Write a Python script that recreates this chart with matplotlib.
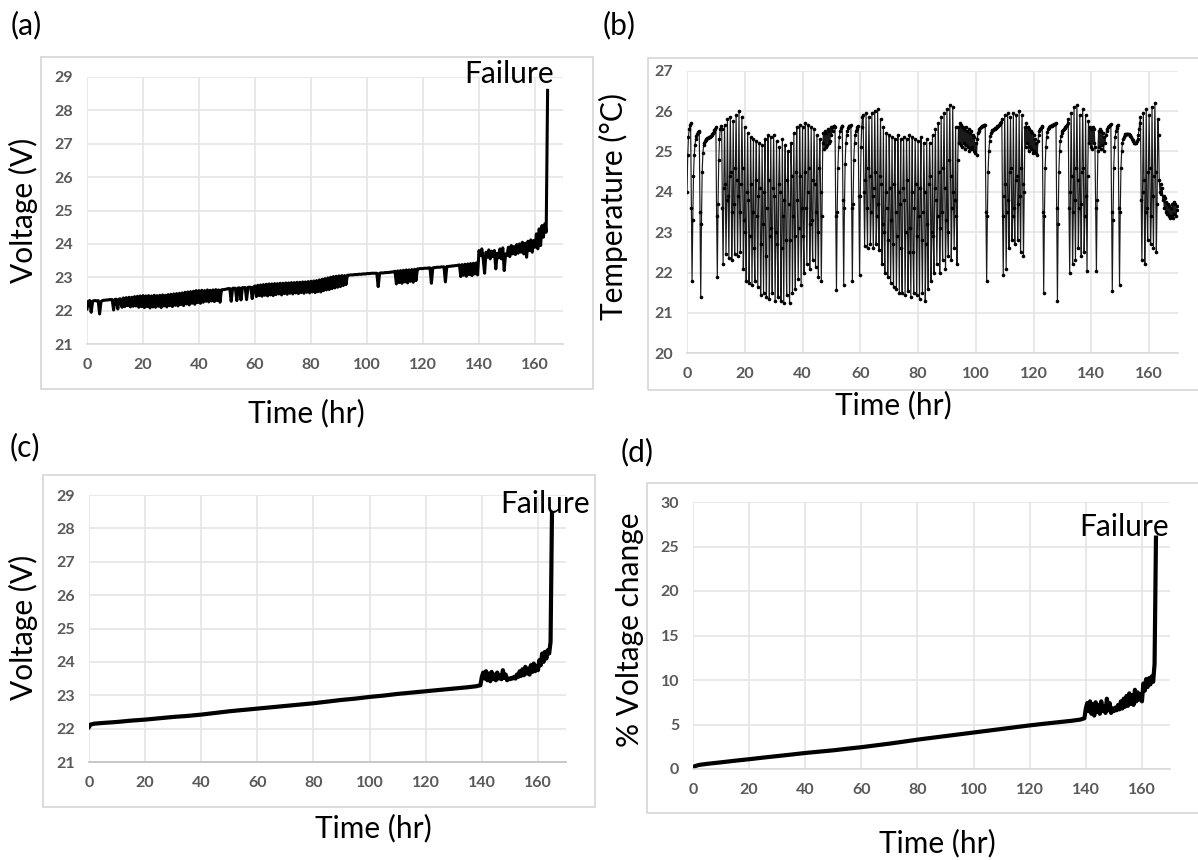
import numpy as np
import matplotlib
matplotlib.use("Agg")
import matplotlib.pyplot as plt
from matplotlib.patches import Rectangle

# ---------------- data ----------------
time_ticks = [0, 20, 40, 60, 80, 100, 120, 140, 160]
volt_ticks = [21, 22, 23, 24, 25, 26, 27, 28, 29]
temp_ticks = [20, 21, 22, 23, 24, 25, 26, 27]
pct_ticks = [0, 5, 10, 15, 20, 25, 30]

# (a) raw voltage, sampled every 0.5 h from t = 0
a_start, a_step = 0.0, 0.5
a_volt = [
    22.05, 22.28, 22.30, 21.95, 22.28, 22.30, 22.30, 22.29, 22.30, 21.90,
    22.27, 22.30, 22.31, 22.31, 22.32, 22.32, 22.33, 22.33, 22.33, 22.02,
    22.34, 22.34, 22.05, 22.35, 22.35, 22.10,
    22.38, 22.12, 22.39, 22.15, 22.40, 22.11, 22.40, 22.13, 22.42, 22.14,
    22.43, 22.10, 22.44, 22.12, 22.45, 22.09, 22.44, 22.12, 22.45, 22.08,
    22.44, 22.11, 22.46, 22.10, 22.45, 22.13, 22.46, 22.09, 22.47, 22.14,
    22.46, 22.11, 22.48, 22.15, 22.49, 22.12, 22.50, 22.16, 22.51, 22.14,
    22.52, 22.18, 22.53, 22.15, 22.55, 22.20, 22.56, 22.17, 22.57, 22.22,
    22.58, 22.19, 22.60, 22.24, 22.60, 22.22, 22.61, 22.25, 22.60, 22.28,
    22.62, 22.26, 22.61, 22.29, 22.62, 22.27, 22.63, 22.30, 22.62, 22.25,
    22.62, 22.63, 22.63, 22.64, 22.65, 22.66, 22.66, 22.28, 22.67, 22.67,
    22.67, 22.30, 22.68, 22.68, 22.32, 22.69, 22.69, 22.69, 22.33, 22.70,
    22.70, 22.70, 22.36, 22.71,
    22.74, 22.42, 22.76, 22.45, 22.77, 22.43, 22.78, 22.46, 22.79, 22.44,
    22.80, 22.47, 22.80, 22.45, 22.81, 22.48, 22.81, 22.50, 22.82, 22.47,
    22.82, 22.51, 22.83, 22.49, 22.83, 22.52, 22.84, 22.50, 22.84, 22.53,
    22.85, 22.51, 22.85, 22.54, 22.86, 22.52, 22.86, 22.55, 22.87, 22.53,
    22.88, 22.56, 22.89, 22.54, 22.90, 22.57, 22.92, 22.56, 22.94, 22.60,
    22.96, 22.62, 22.98, 22.63, 23.00, 22.66, 23.02, 22.68, 23.03, 22.70,
    23.04, 22.72, 23.05, 22.75, 23.05, 22.78,
    23.06, 23.06, 23.07, 23.07, 23.07, 23.08, 23.08, 23.08, 23.09, 23.09,
    23.09, 23.10, 23.10, 23.10, 23.11, 23.11, 23.11, 23.12, 23.12, 23.12,
    23.12, 23.12, 22.72, 23.12, 23.13, 23.13, 23.13, 23.14, 23.14, 23.14,
    23.15, 23.15, 23.16, 23.16,
    23.18, 22.80, 23.19, 22.84, 23.20, 22.82, 23.21, 22.86, 23.22, 22.83,
    23.22, 22.88, 23.23, 22.85, 23.24, 22.90,
    23.25, 23.25, 23.26, 23.26, 23.26, 23.27, 23.27, 23.27, 23.28, 23.28,
    22.82, 23.28, 23.29, 23.29, 23.30, 23.30, 23.30, 23.31, 23.31, 23.31,
    22.86, 23.32, 23.32, 23.33, 23.33, 23.34, 23.34, 23.35, 23.35, 23.36,
    23.37, 23.02, 23.38, 23.06, 23.39, 23.03, 23.40, 23.08, 23.41, 23.05,
    23.42, 23.10, 23.43, 23.07,
    23.80, 23.65, 23.85, 23.55, 23.12, 23.75, 23.60, 23.82, 23.55, 23.78,
    23.62, 23.80, 23.25, 23.72, 23.58, 23.85, 23.55, 23.88, 23.20, 23.70,
    23.65, 23.90, 23.62, 23.95, 23.70, 23.92, 23.68, 23.98, 23.72, 24.00,
    23.75, 24.05, 23.70, 24.02, 23.60, 24.08, 23.80, 24.12, 23.75, 24.10,
    23.90, 24.30, 23.85, 24.45, 23.95, 24.55, 24.20, 24.60, 24.35, 28.60,
]

# (b) temperature, sampled every 0.25 h from t = 0
b_start, b_step = 0.0, 0.25
b_temp = [
    24.0, 24.9, 25.35, 25.55, 25.65, 25.7, 23.6, 21.8,
    23.3, 24.4, 24.9, 25.15, 25.3, 25.38, 25.43, 25.47,
    25.48, 25.5, 23.5, 21.4, 23.2, 24.5, 24.95, 25.15,
    25.22, 25.26, 25.29, 25.31, 25.33, 25.34, 25.35, 25.36,
    25.37, 25.38, 25.4, 25.42, 25.45, 25.48, 25.52, 25.56,
    25.6, 23.4, 21.9, 23.7, 24.8, 25.3, 25.55, 25.62,
    25.55, 23.6, 22.2, 24.1, 25.65, 24.2, 22.45, 23.8,
    25.8, 23.9, 22.35, 24.4, 25.85, 24.5, 22.3, 23.5,
    25.75, 23.7, 22.45, 24.6, 25.9, 24.3, 22.4, 23.9,
    26.0, 23.5, 22.5, 24.2, 25.85, 24.6, 22.1, 23.3,
    25.6, 23.0, 21.8, 24.0, 25.45, 23.8, 21.75, 22.9,
    25.35, 24.2, 21.7, 23.5, 25.3, 22.6, 21.8, 24.3,
    25.25, 23.4, 21.65, 23.9, 25.2, 24.1, 21.45, 22.7,
    25.15, 23.2, 21.5, 24.0, 25.3, 22.4, 21.4, 23.6,
    25.4, 24.3, 21.35, 22.9, 25.35, 23.1, 21.5, 24.1,
    25.4, 23.9, 21.3, 23.0, 25.25, 22.7, 21.4, 24.2,
    25.1, 24.0, 21.3, 22.6, 25.3, 23.4, 21.25, 23.8,
    25.15, 22.8, 21.45, 24.3, 25.0, 23.7, 21.25, 22.8,
    25.2, 24.4, 21.5, 23.4, 25.45, 22.9, 21.6, 24.5,
    25.6, 23.8, 21.85, 23.1, 25.65, 24.4, 21.7, 23.6,
    25.6, 22.9, 22.0, 24.5, 25.7, 23.6, 22.2, 24.0,
    25.65, 24.6, 22.1, 23.2, 25.6, 23.3, 22.3, 24.3,
    25.55, 24.2, 22.15, 23.5, 25.4, 23.0, 21.9, 24.6,
    25.3, 24.0, 21.8, 23.4, 25.2, 25.45, 25.05, 25.5,
    25.1, 25.45, 25.15, 25.55, 25.2, 25.5, 25.25, 25.6,
    25.4, 25.6, 25.5, 25.62, 25.62, 25.6, 23.4, 21.57,
    23.5, 24.6, 25.1, 25.35, 25.5, 25.58, 25.62, 25.64,
    23.8, 21.7, 23.6, 24.7, 25.2, 25.4, 25.5, 25.58,
    25.62, 25.63, 25.64, 25.65, 23.6, 21.8, 23.7, 24.8,
    25.2, 25.4, 25.5, 25.56, 25.6, 25.62, 23.9, 21.95,
    23.9, 25.1, 25.6, 25.85, 25.9, 24.0, 22.65, 24.3,
    25.95, 23.6, 22.6, 24.6, 25.85, 24.4, 22.7, 23.5,
    25.95, 23.9, 22.6, 24.1, 26.0, 24.5, 22.7, 23.4,
    26.05, 23.7, 22.55, 24.4, 25.8, 24.2, 22.2, 23.2,
    25.6, 23.0, 22.0, 24.0, 25.45, 23.6, 21.9, 22.8,
    25.4, 24.1, 21.75, 23.3, 25.35, 22.7, 21.65, 24.2,
    25.3, 23.5, 21.6, 22.9, 25.4, 24.0, 21.5, 23.7,
    25.3, 22.6, 21.5, 24.1, 25.35, 23.8, 21.45, 23.0,
    25.3, 24.3, 21.55, 22.5, 25.4, 23.1, 21.4, 24.0,
    25.35, 22.5, 21.5, 23.6, 25.3, 24.2, 21.45, 22.9,
    25.25, 23.4, 21.35, 24.1, 25.35, 22.8, 21.5, 23.5,
    25.2, 24.0, 21.3, 22.7, 25.3, 23.2, 21.6, 24.2,
    25.2, 24.4, 21.8, 23.0, 25.4, 22.9, 22.0, 24.1,
    25.55, 23.8, 22.2, 23.4, 25.7, 24.5, 22.0, 23.1,
    25.85, 23.5, 22.3, 24.6, 25.95, 24.1, 22.1, 23.3,
    26.05, 23.0, 22.4, 24.8, 26.15, 24.4, 22.3, 23.6,
    26.1, 24.0, 22.6, 23.8, 25.6, 23.4, 22.2, 24.8,
    25.6, 25.2, 25.7, 25.15, 25.65, 25.1, 25.6, 25.2,
    25.55, 25.05, 25.6, 25.15, 25.5, 25.1, 25.55, 25.0,
    25.45, 25.05, 25.5, 25.1, 25.4, 25.0, 25.35, 24.95,
    25.2, 24.9, 25.3, 25.45, 25.5, 25.55, 25.58, 25.6,
    25.62, 25.63, 25.64, 25.65, 25.65, 25.66, 23.5, 21.8,
    23.4, 24.5, 25.0, 25.25, 25.38, 25.45, 25.5, 25.52,
    25.54, 25.55, 25.56, 25.57, 25.58, 25.6, 25.62, 25.64,
    25.66, 25.68, 25.7, 25.72, 25.8, 23.4, 21.95, 23.9,
    25.9, 24.2, 22.1, 23.5, 25.95, 23.8, 22.6, 24.5,
    25.85, 24.6, 22.8, 23.4, 25.95, 23.6, 22.7, 24.3,
    25.9, 24.4, 22.8, 23.7, 26.0, 23.9, 22.5, 24.6,
    25.9, 24.2, 22.4, 24.0, 25.6, 25.1, 25.7, 25.2,
    25.6, 25.0, 25.55, 25.1, 25.5, 25.05, 25.45, 24.95,
    25.4, 25.0, 25.3, 24.95, 25.2, 24.9, 25.25, 25.4,
    25.5, 25.55, 25.58, 25.6, 25.62, 23.5, 21.5, 23.4,
    24.6, 25.1, 25.35, 25.48, 25.55, 25.58, 25.6, 25.62,
    25.63, 25.64, 25.65, 25.66, 25.67, 25.68, 25.69, 25.7,
    23.6, 21.3, 23.2, 24.5, 25.0, 25.25, 25.38, 25.45,
    25.5, 25.53, 25.56, 25.58, 25.6, 25.62, 25.65, 25.7,
    25.8, 23.6, 22.0, 24.0, 25.95, 24.4, 22.2, 23.5,
    26.1, 23.8, 22.3, 24.6, 26.15, 24.3, 22.6, 23.6,
    25.9, 23.7, 22.4, 24.5, 26.05, 24.6, 22.5, 23.4,
    25.9, 23.9, 22.05, 24.4, 25.75, 25.2, 25.6, 25.1,
    25.55, 25.05, 25.6, 25.2, 25.55, 25.1, 23.6, 22.05,
    23.8, 25.0, 25.5, 25.1, 25.55, 25.05, 25.5, 25.15,
    25.45, 25.0, 25.35, 25.2, 25.4, 25.5, 25.55, 25.6,
    25.62, 25.64, 25.66, 25.68, 23.5, 21.55, 23.3, 24.6,
    25.1, 25.35, 25.5, 25.58, 25.62, 25.65, 23.6, 21.7,
    23.5, 24.6, 25.0, 25.2, 25.3, 25.36, 25.4, 25.42,
    25.43, 25.44, 25.44, 25.43, 25.42, 25.4, 25.38, 25.35,
    25.32, 25.28, 25.25, 25.22, 25.2, 25.2, 25.22, 25.25,
    25.3, 25.4, 25.55, 25.7, 25.85, 23.8, 22.3, 24.0,
    25.95, 24.3, 22.2, 23.5, 26.05, 23.6, 22.8, 24.5,
    25.9, 24.6, 22.7, 23.4, 26.1, 23.9, 22.6, 24.4,
    26.2, 24.5, 22.5, 23.7, 25.8, 25.4, 24.3, 24.0,
    24.2, 23.95, 24.1, 23.8, 23.9, 23.6, 23.85, 23.5,
    23.75, 23.45, 23.7, 23.4, 23.65, 23.35, 23.6, 23.4,
    23.7, 23.35, 23.75, 23.45, 23.7, 23.4, 23.55, 23.65,
]

# (c) filtered voltage
c_smooth_t = [0, 0.5, 2, 5, 10, 15, 20, 25, 30, 35, 40, 45, 50, 55, 60, 65, 70,
              75, 80, 85, 90, 95, 100, 105, 110, 115, 120, 125, 130, 135, 138, 139.5]
c_smooth_v = [22.05, 22.12, 22.15, 22.17, 22.20, 22.24, 22.27, 22.31, 22.35, 22.38,
              22.42, 22.47, 22.52, 22.56, 22.60, 22.64, 22.68, 22.72, 22.76, 22.81,
              22.86, 22.90, 22.95, 22.99, 23.04, 23.08, 23.12, 23.16, 23.20, 23.24,
              23.27, 23.30]
c_noisy_start, c_noisy_step = 140.0, 0.5
c_noisy_v = [23.55, 23.68, 23.50, 23.72, 23.45, 23.65, 23.42, 23.70, 23.48, 23.62,
             23.45, 23.68, 23.50, 23.60, 23.48, 23.75, 23.52, 23.62, 23.45, 23.50,
             23.48, 23.52, 23.50, 23.55, 23.50, 23.62, 23.55, 23.72, 23.58, 23.78,
             23.60, 23.85, 23.65, 23.80, 23.62, 23.90, 23.70, 23.95, 23.72, 23.88,
             23.75, 24.05, 23.90, 24.25, 24.00, 24.30, 24.10, 24.35, 24.25, 24.60,
             28.45]

# (d) % voltage change
d_smooth_t = [0, 0.5, 2, 5, 10, 15, 20, 25, 30, 35, 40, 45, 50, 55, 60, 65, 70,
              75, 80, 85, 90, 95, 100, 105, 110, 115, 120, 125, 130, 135, 138, 139.5]
d_smooth_v = [0.0, 0.30, 0.45, 0.58, 0.75, 0.93, 1.10, 1.28, 1.45, 1.62, 1.80, 1.95,
              2.10, 2.28, 2.45, 2.65, 2.85, 3.07, 3.30, 3.50, 3.70, 3.90, 4.10, 4.30,
              4.50, 4.70, 4.90, 5.08, 5.25, 5.42, 5.55, 5.70]
d_noisy_start, d_noisy_step = 140.0, 0.5
d_noisy_v = [6.8, 7.4, 6.5, 7.6, 6.2, 7.3, 6.0, 7.5, 6.4, 7.2,
             6.2, 7.6, 6.5, 7.0, 6.3, 7.9, 6.6, 7.4, 6.3, 6.8,
             6.5, 6.9, 6.6, 7.2, 6.7, 7.6, 6.8, 7.9, 7.0, 8.2,
             7.1, 8.5, 7.3, 8.3, 7.2, 8.9, 7.6, 8.6, 7.8, 8.4,
             7.6, 9.6, 8.8, 10.1, 9.2, 10.2, 9.5, 10.4, 9.8, 11.8,
             26.0]

# ---------------- figure ----------------
W, H = 1198, 860
plt.rcParams['font.family'] = ['Lato', 'DejaVu Sans']
fig = plt.figure(figsize=(W / 100, H / 100), dpi=100)


def px_axes(l, t, r, b):
    return fig.add_axes([l / W, 1 - b / H, (r - l) / W, (b - t) / H])


def ftext(x, y, s, **kw):
    fig.text(x / W, 1 - y / H, s, **kw)


def border(l, t, r, b):
    fig.add_artist(Rectangle((l / W, 1 - b / H), (r - l) / W, (b - t) / H,
                             transform=fig.transFigure, fill=False,
                             ec='#D9D9D9', lw=1.3, zorder=0))


def style(ax, ylim, yticks, axis_color='#D9D9D9'):
    ax.set_xlim(0, 170)
    ax.set_ylim(*ylim)
    ax.set_xticks(time_ticks)
    ax.set_yticks(yticks)
    ax.grid(True, color='#E3E3E3', lw=1.1)
    ax.set_axisbelow(True)
    for s in ['top', 'right', 'left']:
        ax.spines[s].set_visible(False)
    ax.spines['bottom'].set_color(axis_color)
    ax.spines['bottom'].set_linewidth(1.2)
    ax.tick_params(length=0, pad=10, labelsize=11.5, labelcolor='#595959')
    for lab in ax.get_xticklabels() + ax.get_yticklabels():
        lab.set_fontweight('bold')
    ax.patch.set_alpha(0)


BIG = 21.5

# chart-area borders
border(41, 57, 593, 389)
border(648, 58, 1201, 390)
border(43, 475, 595, 807)
border(647, 483, 1201, 813)

# (a)
ax_a = px_axes(87, 77, 563, 344)
style(ax_a, (21, 29), volt_ticks)
t_a = a_start + a_step * np.arange(len(a_volt))
ax_a.plot(t_a, a_volt, color='black', lw=2.2)

# (b)
ax_b = px_axes(687, 70.7, 1178, 353.3)
style(ax_b, (20, 27), temp_ticks)
t_b = b_start + b_step * np.arange(len(b_temp))
ax_b.plot(t_b, b_temp, color='#1a1a1a', lw=0.85, marker='o', ms=2.6,
          mfc='black', mec='black', mew=0)

# (c)
ax_c = px_axes(89, 495, 566, 762)
style(ax_c, (21, 29), volt_ticks, axis_color='#BFBFBF')
t_c = list(c_smooth_t) + list(c_noisy_start + c_noisy_step * np.arange(len(c_noisy_v)))
v_c = list(c_smooth_v) + list(c_noisy_v)
ax_c.plot(t_c, v_c, color='black', lw=3.0)

# (d)
ax_d = px_axes(693, 502, 1170, 769)
style(ax_d, (0, 30), pct_ticks)
t_d = list(d_smooth_t) + list(d_noisy_start + d_noisy_step * np.arange(len(d_noisy_v)))
v_d = list(d_smooth_v) + list(d_noisy_v)
ax_d.plot(t_d, v_d, color='black', lw=3.0)

# panel letters
ftext(26, 25, '(a)', fontsize=BIG, ha='center', va='center')
ftext(619, 25, '(b)', fontsize=BIG, ha='center', va='center')
ftext(25, 447, '(c)', fontsize=BIG, ha='center', va='center')
ftext(637, 452, '(d)', fontsize=BIG, ha='center', va='center')

# axis titles
ftext(306, 413, 'Time (hr)', fontsize=BIG, ha='center', va='center')
ftext(893, 405, 'Time (hr)', fontsize=BIG, ha='center', va='center')
ftext(373, 828, 'Time (hr)', fontsize=BIG, ha='center', va='center')
ftext(937, 843, 'Time (hr)', fontsize=BIG, ha='center', va='center')
ftext(23, 210, 'Voltage (V)', fontsize=BIG, rotation=90, ha='center', va='center')
ftext(613, 207, 'Temperature (\u00b0C)', fontsize=BIG, rotation=90, ha='center', va='center')
ftext(23, 627, 'Voltage (V)', fontsize=BIG, rotation=90, ha='center', va='center')
ftext(630, 630, '% Voltage change', fontsize=BIG, rotation=90, ha='center', va='center')

# failure annotations
ftext(509, 83, 'Failure', fontsize=BIG, ha='center', va='baseline')
ftext(545, 513, 'Failure', fontsize=BIG, ha='center', va='baseline')
ftext(1124, 536, 'Failure', fontsize=BIG, ha='center', va='baseline')

fig.savefig('out.png', dpi=100)
